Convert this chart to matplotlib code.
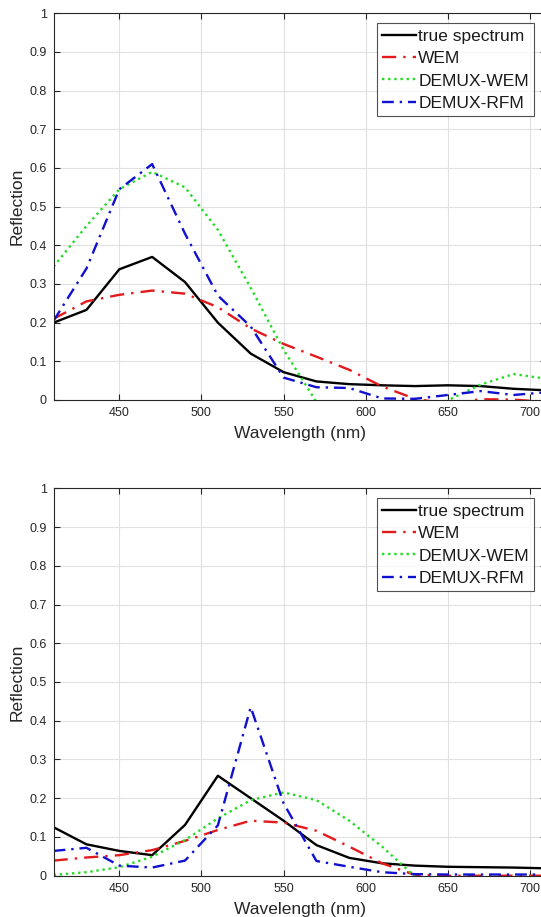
import matplotlib
matplotlib.use("Agg")
import matplotlib.pyplot as plt
import numpy as np

plt.rcParams['font.family'] = ['Liberation Sans', 'DejaVu Sans']

wavelength = [410, 430, 450, 470, 490, 510, 530, 550, 570, 590, 610, 630, 650, 670, 690, 710]

# Top panel
top_true = [0.200, 0.233, 0.338, 0.370, 0.305, 0.200, 0.120, 0.072, 0.048, 0.041, 0.038, 0.036, 0.038, 0.036, 0.029, 0.025]
top_wem = [0.210, 0.255, 0.272, 0.283, 0.275, 0.240, 0.185, 0.145, 0.112, 0.078, 0.035, 0.003, -0.010, 0.002, 0.001, -0.005]
top_dwem = [0.345, 0.450, 0.545, 0.590, 0.550, 0.440, 0.290, 0.130, -0.005, -0.060, -0.080, -0.060, -0.001, 0.040, 0.067, 0.055]
top_drfm = [0.205, 0.340, 0.545, 0.610, 0.430, 0.270, 0.190, 0.058, 0.033, 0.031, 0.004, 0.003, 0.013, 0.023, 0.013, 0.020]

# Bottom panel
bot_true = [0.125, 0.081, 0.064, 0.053, 0.131, 0.258, 0.200, 0.142, 0.079, 0.046, 0.032, 0.026, 0.023, 0.022, 0.021, 0.019]
bot_wem = [0.039, 0.047, 0.053, 0.066, 0.090, 0.118, 0.142, 0.137, 0.116, 0.075, 0.032, 0.002, 0.000, 0.000, 0.000, 0.000]
bot_dwem = [0.002, 0.009, 0.022, 0.049, 0.092, 0.148, 0.195, 0.215, 0.195, 0.142, 0.075, -0.002, -0.020, -0.020, -0.020, -0.020]
bot_drfm = [0.064, 0.072, 0.026, 0.021, 0.039, 0.130, 0.435, 0.187, 0.038, 0.023, 0.009, 0.004, 0.003, 0.003, 0.003, 0.003]

labels = ['true spectrum', 'WEM', 'DEMUX-WEM', 'DEMUX-RFM']
xticks = [450, 500, 550, 600, 650, 700]
yticks = [0, 0.1, 0.2, 0.3, 0.4, 0.5, 0.6, 0.7, 0.8, 0.9, 1]
yticklabels = ['0', '0.1', '0.2', '0.3', '0.4', '0.5', '0.6', '0.7', '0.8', '0.9', '1']

W, H = 541, 917
fig = plt.figure(figsize=(W / 100, H / 100), dpi=100)

axcol = '#262626'

def make_ax(top_px, bot_px, series):
    left_px, right_px = 53.6, 546.4
    ax = fig.add_axes([left_px / W, 1 - bot_px / H, (right_px - left_px) / W, (bot_px - top_px) / H])
    true, wem, dwem, drfm = series
    ax.plot(wavelength, true, color='black', lw=1.7, ls='-', label=labels[0])
    ax.plot(wavelength, wem, color='#e31a1c', lw=1.7, ls=(0, (6, 3, 1, 3)), label=labels[1])
    ax.plot(wavelength, dwem, color='#22dd22', lw=1.7, ls=(0, (1, 1.6)), label=labels[2])
    ax.plot(wavelength, drfm, color='#1010d0', lw=1.7, ls=(0, (5, 2.5, 1, 2.5)), label=labels[3])
    ax.set_xlim(410, 710)
    ax.set_ylim(0, 1)
    ax.set_xticks(xticks)
    ax.set_yticks(yticks)
    ax.set_yticklabels(yticklabels)
    ax.grid(True, color='#e0e0e0', lw=0.8)
    ax.set_axisbelow(True)
    ax.tick_params(direction='in', top=True, right=True, length=4, width=0.8,
                   colors=axcol, labelsize=9, pad=5)
    for sp in ax.spines.values():
        sp.set_color(axcol)
        sp.set_linewidth(0.8)
    ax.set_ylabel('Reflection', fontsize=12.5, color=axcol, labelpad=3)
    ax.set_xlabel('Wavelength (nm)', fontsize=12.5, color=axcol, labelpad=5)
    leg = ax.legend(loc='upper right', bbox_to_anchor=((534 - left_px) / (right_px - left_px), 1 - 10 / (bot_px - top_px)),
                    fontsize=12.5, frameon=True, fancybox=False, edgecolor=axcol,
                    handlelength=2.0, handletextpad=0.1, borderpad=0.3, labelspacing=0.42,
                    borderaxespad=0.0)
    leg.get_frame().set_linewidth(0.8)
    for t in leg.get_texts():
        t.set_color('#1a1a1a')
    return ax

make_ax(13.3, 400.0, (top_true, top_wem, top_dwem, top_drfm))
make_ax(488.3, 875.7, (bot_true, bot_wem, bot_dwem, bot_drfm))

fig.savefig('out.png', dpi=100)
